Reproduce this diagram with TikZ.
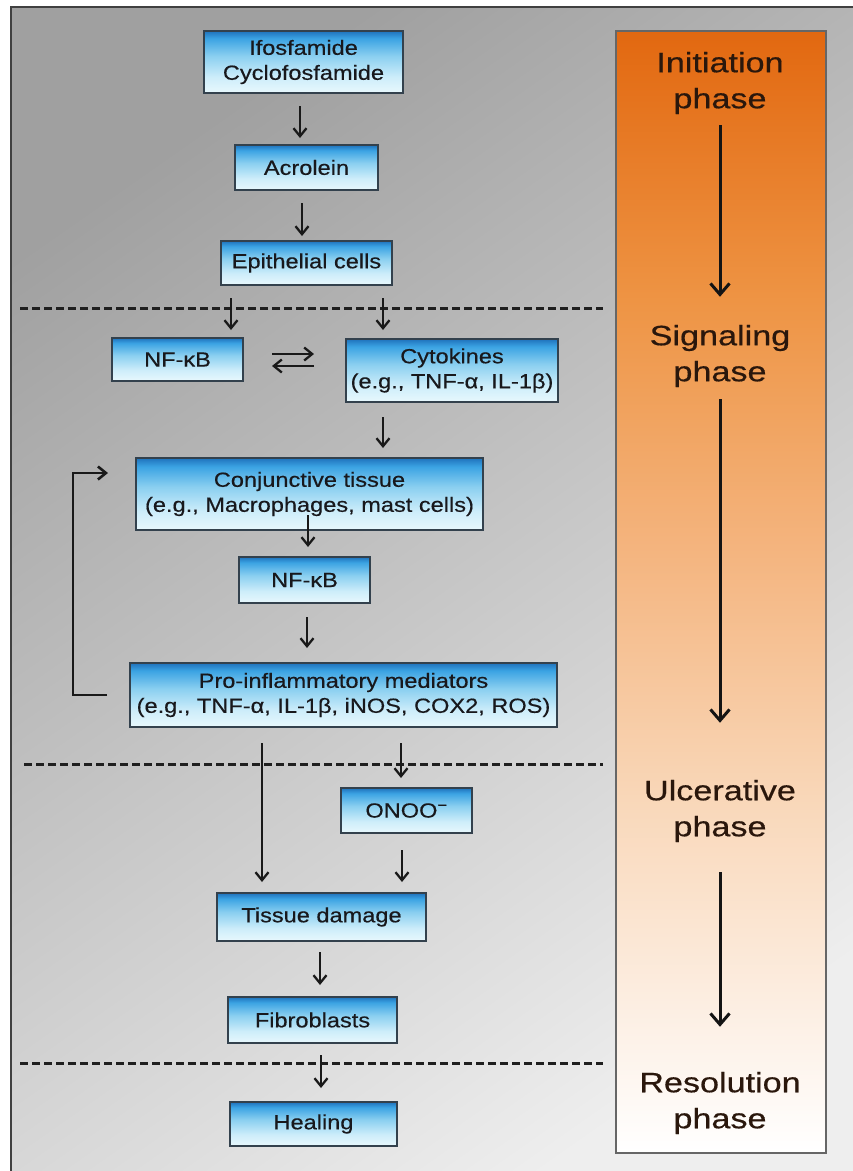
\documentclass[tikz,border=0pt]{standalone}
\usepackage{fontspec}
\setmainfont{Liberation Sans}
\newfontfamily\boxfont[FakeStretch=1.15,FakeBold=0.4]{Liberation Sans}
\newfontfamily\panelfont[FakeStretch=1.22,FakeBold=0.5]{Liberation Sans}
\usetikzlibrary{arrows.meta,calc}

\definecolor{bxtop}{HTML}{1F72BC}
\definecolor{bxup}{HTML}{3BA3E3}
\definecolor{bxmid}{HTML}{8ACFF0}
\definecolor{bxlow}{HTML}{CDEDFA}
\definecolor{bxbot}{HTML}{E8F8FD}
\definecolor{bxline}{HTML}{33414D}
\definecolor{txt}{HTML}{18181C}
\definecolor{ptxt}{HTML}{2A170C}
\definecolor{ph1}{HTML}{E26810}
\definecolor{ph2}{HTML}{EE9444}
\definecolor{ph3}{HTML}{F4B47E}
\definecolor{ph4}{HTML}{F9D8BA}
\definecolor{ph5}{HTML}{FCEDE0}
\definecolor{bgtop}{HTML}{A0A0A0}
\definecolor{bgmid}{HTML}{D2D2D2}
\definecolor{bgbot}{HTML}{EEEEEE}

\pgfdeclareverticalshading{boxshade}{100bp}{color(0bp)=(bxbot); color(25bp)=(bxbot); color(38bp)=(bxlow); color(55bp)=(bxmid); color(69bp)=(bxup); color(75bp)=(bxtop); color(100bp)=(bxtop)}
\pgfdeclareverticalshading{phaseshade}{100bp}{color(0bp)=(white); color(25bp)=(white); color(32bp)=(ph5); color(40.5bp)=(ph4); color(52bp)=(ph3); color(63bp)=(ph2); color(75bp)=(ph1); color(100bp)=(ph1)}

\tikzset{
  bx/.style={draw=bxline, line width=1.8pt, shade, shading=boxshade, inner sep=0pt, outer sep=0pt,
    align=center, text=txt, font=\boxfont\fontsize{20.5}{25}\selectfont},
  ptext/.style={align=center, inner sep=0pt, text=ptxt, font=\panelfont\fontsize{28}{36}\selectfont},
  arr/.style={draw=black!90, line width=2.3pt, -{Straight Barb[length=8pt,width=13pt]}},
  looparr/.style={draw=black!90, line width=2.6pt, -{Straight Barb[length=8pt,width=13pt]}},
  parr/.style={draw=black!92, line width=3pt, -{Straight Barb[length=11pt,width=19pt]}},
  dline/.style={draw=black!88, line width=3pt, dash pattern=on 8pt off 4pt},
  panelbox/.style={draw=black!60, line width=1.6pt, shade, shading=phaseshade, inner sep=0pt, outer sep=0pt}
}

\begin{document}
\begin{tikzpicture}[x=1pt,y=-1pt]
\useasboundingbox (0,0) rectangle (853,1171);
\begin{scope}
  \clip (0,0) rectangle (853,1171);
  \shade[top color=bgtop, middle color=bgmid, bottom color=bgbot, shading angle=35] (11,7) rectangle (880,1190);
  \draw[draw=black!75, line width=1.8pt] (11,1190) -- (11,7) -- (880,7);
\end{scope}

% phase panel
\node[panelbox, minimum width=210pt, minimum height=1122pt] (panel) at (721,592) {};
\node[ptext] (init) at (720,83) {Initiation\\phase};
\node[ptext] (sig) at (720,356) {Signaling\\phase};
\node[ptext] (ulc) at (720,811) {Ulcerative\\phase};
\node[ptext] (res) at (720,1103) {Resolution\\phase};
\draw[parr, shorten <=11pt, shorten >=28pt] (init.south) -- (sig.north);
\draw[parr, shorten <=12pt, shorten >=57pt] (sig.south) -- (ulc.north);
\draw[parr, shorten <=30pt, shorten >=45pt] (ulc.south) -- (res.north);

% dashed separators
\coordinate (dl1a) at (20,308);  \coordinate (dl1b) at (603,308);
\coordinate (dl2a) at (24,764);  \coordinate (dl2b) at (603,764);
\coordinate (dl3a) at (20,1063); \coordinate (dl3b) at (603,1063);
\draw[dline] (dl1a) -- (dl1b);
\draw[dline] (dl2a) -- (dl2b);
\draw[dline] (dl3a) -- (dl3b);

% boxes
\node[bx, minimum width=199pt, minimum height=62pt] (ifos) at (303.5,62) {Ifosfamide\\Cyclofosfamide};
\node[bx, minimum width=143pt, minimum height=45pt] (acro) at (306.5,167.5) {Acrolein};
\node[bx, minimum width=171pt, minimum height=44pt] (epi) at (306.5,263) {Epithelial cells};
\node[bx, minimum width=131pt, minimum height=43pt] (nfk1) at (177.5,359.5) {NF-κB};
\node[bx, minimum width=212pt, minimum height=63pt] (cyto) at (452,370.5) {Cytokines\\(e.g., TNF-α, IL-1β)};
\node[bx, minimum width=347pt, minimum height=72pt] (conj) at (309.5,494) {Conjunctive tissue\\(e.g., Macrophages, mast cells)};
\node[bx, minimum width=131pt, minimum height=46pt] (nfk2) at (304.5,580) {NF-κB};
\node[bx, minimum width=427pt, minimum height=64pt] (pro) at (343.5,695) {Pro-inflammatory mediators\\(e.g., TNF-α, IL-1β, iNOS, COX2, ROS)};
\node[bx, minimum width=131pt, minimum height=45pt] (onoo) at (406.5,810.5) {ONOO\textsuperscript{−}};
\node[bx, minimum width=209pt, minimum height=48pt] (tis) at (321.5,917) {Tissue damage};
\node[bx, minimum width=169pt, minimum height=46pt] (fib) at (312.5,1020) {Fibroblasts};
\node[bx, minimum width=167pt, minimum height=44pt] (heal) at (313.5,1124) {Healing};

% arrow columns
\coordinate (x1) at (300,0);
\coordinate (x2) at (302,0);
\coordinate (x3) at (231,0);
\coordinate (x4) at (383,0);
\coordinate (x5) at (308,0);
\coordinate (x6) at (307,0);
\coordinate (x7) at (262,0);
\coordinate (x8) at (401,0);
\coordinate (x9) at (402,0);
\coordinate (x10) at (320,0);
\coordinate (x11) at (321,0);
\coordinate (eqt) at (0,354);
\coordinate (eqb) at (0,366);

\draw[arr, shorten <=13pt, shorten >=7pt] (ifos.south -| x1) -- (acro.north -| x1);
\draw[arr, shorten <=13pt, shorten >=5pt] (acro.south -| x2) -- (epi.north -| x2);
\draw[arr, shorten <=13pt, shorten >=8pt] (epi.south -| x3) -- (nfk1.north -| x3);
\draw[arr, shorten <=13pt, shorten >=9pt] (epi.south -| x4) -- (cyto.north -| x4);
\draw[arr, shorten <=29pt, shorten >=32pt] (nfk1.east |- eqt) -- (cyto.west |- eqt);
\draw[arr, shorten <=32pt, shorten >=29pt] (cyto.west |- eqb) -- (nfk1.east |- eqb);
\draw[arr, shorten <=15pt, shorten >=10pt] (cyto.south -| x4) -- (conj.north -| x4);
\draw[arr, shorten <=-15pt, shorten >=10pt] (conj.south -| x5) -- (nfk2.north -| x5);
\draw[arr, shorten <=14pt, shorten >=15pt] (nfk2.south -| x6) -- (pro.north -| x6);
\draw[arr, shorten <=16pt, shorten >=11pt] (pro.south -| x7) -- (tis.north -| x7);
\draw[arr, shorten <=16pt, shorten >=10pt] (pro.south -| x8) -- (onoo.north -| x8);
\draw[arr, shorten <=17pt, shorten >=11pt] (onoo.south -| x9) -- (tis.north -| x9);
\draw[arr, shorten <=11pt, shorten >=12pt] (tis.south -| x10) -- (fib.north -| x10);
\draw[arr, shorten <=12pt, shorten >=14pt] (fib.south -| x11) -- (heal.north -| x11);

% feedback loop
\draw[looparr] ($(pro.west)+(-23,0)$) -- ++(-34,0) |- ($(conj.west)+(-28,-21)$);
\end{tikzpicture}
\end{document}
